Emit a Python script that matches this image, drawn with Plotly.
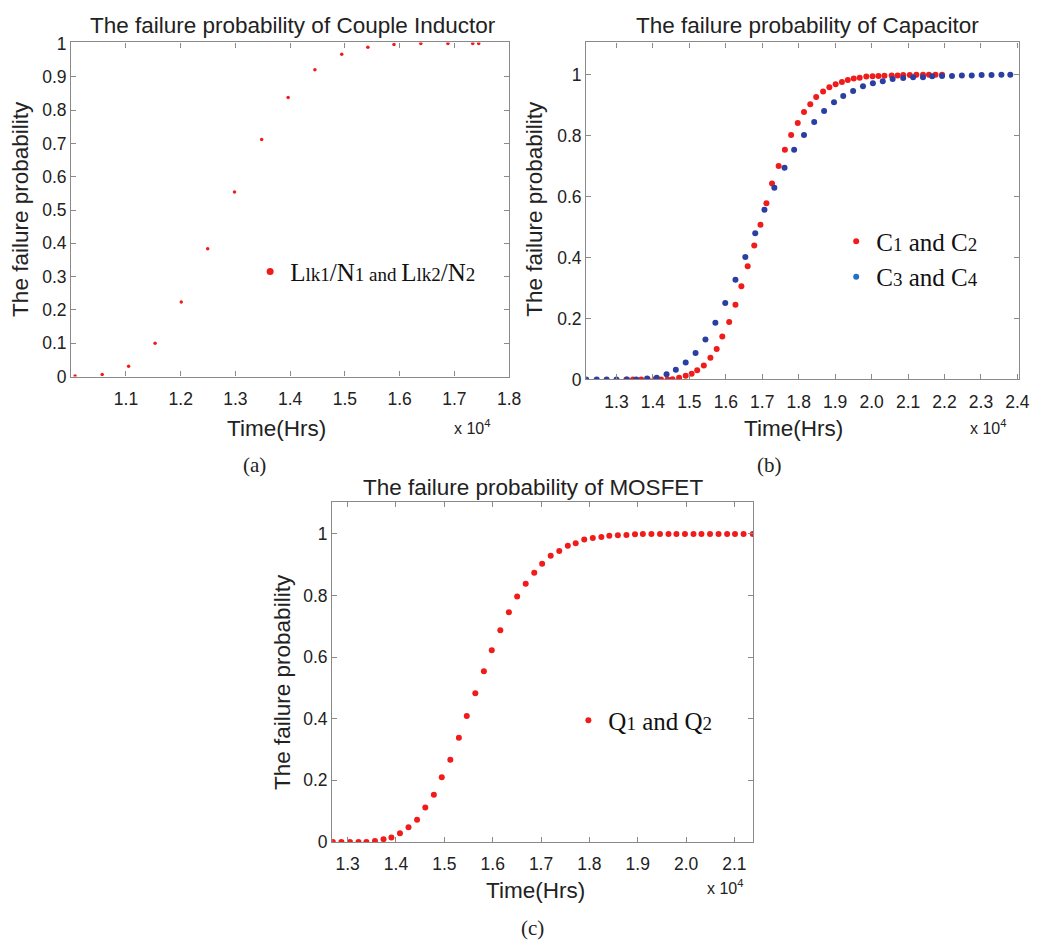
import plotly.graph_objects as go

# (a) couple inductor
ind_t = [10070, 10565, 11048, 11532, 12010, 12493, 12983, 13479, 13963, 14452,
         14942, 15420, 15897, 16387, 16883, 17336, 17445]
ind_p = [0.002, 0.006, 0.031, 0.100, 0.224, 0.384, 0.554, 0.712, 0.838, 0.921,
         0.968, 0.989, 0.997, 1.0, 1.0, 1.0, 1.0]

# (b) capacitors
c12_t = [13271, 13452, 13678, 13859, 14040, 14221, 14402, 14537, 14718, 14899,
         15062, 15215, 15396, 15577, 15749, 15903, 16092, 16264, 16427, 16599,
         16780, 16951, 17114, 17268, 17449, 17620, 17792, 17973, 18145, 18317,
         18479, 18669, 18841, 19013, 19185, 19347, 19510, 19673, 19854, 20026,
         20188, 20351, 20550, 20713, 20867, 21047, 21228, 21409, 21572, 21753, 21933]
c12_p = [0.0, 0.0, 0.0, 0.0, 0.0, 0.0, 0.0, 0.001, 0.006, 0.012,
         0.019, 0.030, 0.046, 0.071, 0.100, 0.141, 0.189, 0.245, 0.306, 0.372,
         0.440, 0.508, 0.578, 0.643, 0.701, 0.754, 0.802, 0.842, 0.878, 0.903,
         0.927, 0.945, 0.959, 0.969, 0.976, 0.983, 0.988, 0.990, 0.994, 0.995,
         0.996, 0.997, 0.998, 0.998, 0.999, 0.999, 1.0, 1.0, 1.0, 1.0, 1.0]
c34_t = [12168, 12457, 12729, 13000, 13289, 13543, 13841, 14103, 14374, 14628,
         14899, 15170, 15441, 15713, 15984, 16264, 16535, 16807, 17060, 17331,
         17611, 17874, 18145, 18425, 18696, 18968, 19221, 19492, 19763, 20035,
         20306, 20577, 20866, 21138, 21409, 21662, 21933, 22205, 22476, 22747,
         23018, 23290, 23561, 23805]
c34_p = [0.0, 0.0, 0.0, 0.0, 0.0, 0.0, 0.003, 0.006, 0.017, 0.032,
         0.056, 0.087, 0.131, 0.186, 0.251, 0.327, 0.402, 0.480, 0.557, 0.629,
         0.695, 0.754, 0.802, 0.845, 0.881, 0.910, 0.930, 0.947, 0.962, 0.972,
         0.979, 0.986, 0.989, 0.992, 0.992, 0.995, 0.996, 0.996, 0.998, 0.998,
         0.999, 0.999, 1.0, 1.0]

# (c) mosfet
q_t = [12694, 12871, 13048, 13225, 13388, 13565, 13742, 13905, 14082, 14259,
       14436, 14606, 14783, 14947, 15124, 15301, 15464, 15641, 15818, 15981,
       16158, 16335, 16506, 16683, 16860, 17023, 17200, 17377, 17554, 17717,
       17894, 18071, 18248, 18412, 18589, 18766, 18943, 19106, 19283, 19460,
       19637, 19800, 19977, 20154, 20318, 20495, 20672, 20849, 21012, 21189, 21380]
q_p = [0.0, 0.0, 0.0, 0.0, 0.0, 0.003, 0.009, 0.014, 0.028, 0.048,
       0.072, 0.112, 0.153, 0.210, 0.267, 0.338, 0.409, 0.483, 0.554, 0.622,
       0.687, 0.746, 0.797, 0.838, 0.874, 0.903, 0.929, 0.945, 0.962, 0.970,
       0.982, 0.987, 0.990, 0.994, 0.996, 0.997, 0.999, 1.0, 1.0, 1.0,
       1.0, 1.0, 1.0, 1.0, 1.0, 1.0, 1.0, 1.0, 1.0, 1.0, 1.0]

xt_a = [11000, 12000, 13000, 14000, 15000, 16000, 17000, 18000]
xl_a = ["1.1", "1.2", "1.3", "1.4", "1.5", "1.6", "1.7", "1.8"]
yt_a = [0, 0.1, 0.2, 0.3, 0.4, 0.5, 0.6, 0.7, 0.8, 0.9, 1]
yl_a = ["0", "0.1", "0.2", "0.3", "0.4", "0.5", "0.6", "0.7", "0.8", "0.9", "1"]
xt_b = [13000, 14000, 15000, 16000, 17000, 18000, 19000, 20000, 21000, 22000, 23000, 24000]
xl_b = ["1.3", "1.4", "1.5", "1.6", "1.7", "1.8", "1.9", "2.0", "2.1", "2.2", "2.3", "2.4"]
xt_c = [13000, 14000, 15000, 16000, 17000, 18000, 19000, 20000, 21000]
xl_c = ["1.3", "1.4", "1.5", "1.6", "1.7", "1.8", "1.9", "2.0", "2.1"]
yt_bc = [0, 0.2, 0.4, 0.6, 0.8, 1]
yl_bc = ["0", "0.2", "0.4", "0.6", "0.8", "1"]

RED = "#f01c1c"
BLUE = "#2b3fa3"
SANS = "Liberation Sans, Arial, sans-serif"
SERIF = "Liberation Serif, Times New Roman, serif"

# page has an 8px body margin, so the figure is 16px smaller than the window
W, H, OFF = 1027, 936, 8


# helpers: window pixel -> paper fraction
def px(x):
    return (x - OFF) / W


def py(y):
    return 1 - (y - OFF) / H


def sm(s, size=19):
    return "<span style='font-size:%dpx'>%s</span>" % (size, s)


fig = go.Figure()
fig.add_trace(go.Scatter(x=ind_t, y=ind_p, mode="markers", xaxis="x", yaxis="y",
                         marker=dict(color=RED, size=3.5), showlegend=False))
fig.add_trace(go.Scatter(x=[None], y=[None], mode="markers", legend="legend",
                         marker=dict(color=RED, size=7),
                         name="L" + sm("lk1") + "/N" + sm("1") + sm(" and ") + "L" + sm("lk2") + "/N" + sm("2")))
fig.add_trace(go.Scatter(x=c12_t, y=c12_p, mode="markers", xaxis="x2", yaxis="y2",
                         marker=dict(color=RED, size=6), showlegend=False))
fig.add_trace(go.Scatter(x=c34_t, y=c34_p, mode="markers", xaxis="x2", yaxis="y2",
                         marker=dict(color=BLUE, size=6), showlegend=False))
fig.add_trace(go.Scatter(x=[None], y=[None], mode="markers", legend="legend2",
                         marker=dict(color=RED, size=6),
                         name="C" + sm("1") + " and C" + sm("2")))
fig.add_trace(go.Scatter(x=[None], y=[None], mode="markers", legend="legend2",
                         marker=dict(color="#2271c8", size=6),
                         name="C" + sm("3") + " and C" + sm("4")))
fig.add_trace(go.Scatter(x=q_t, y=q_p, mode="markers", xaxis="x3", yaxis="y3",
                         marker=dict(color=RED, size=6), legend="legend3",
                         name="Q" + sm("1") + " and Q" + sm("2")))

ax = dict(showgrid=False, zeroline=False, showline=True, linecolor="#8a8a8a", linewidth=1.3,
          mirror="ticks", ticks="inside", ticklen=5, tickcolor="#8a8a8a",
          tickfont=dict(family=SANS, size=17.5, color="#222"))
xax = dict(ax, ticklabelstandoff=6)

leg = dict(xanchor="left", yanchor="middle", bgcolor="rgba(0,0,0,0)",
           font=dict(family=SERIF, size=25, color="#111"), tracegroupgap=0)

fig.update_layout(
    width=W, height=H,
    margin=dict(l=0, r=0, t=0, b=0),
    paper_bgcolor="white", plot_bgcolor="white",
    hovermode=False,
    xaxis=dict(xax, domain=[px(72), px(515)], range=[10000, 18000], tickvals=xt_a, ticktext=xl_a, anchor="y"),
    yaxis=dict(ax, domain=[py(375), py(34)], range=[0, 1.003], tickvals=yt_a, ticktext=yl_a, anchor="x"),
    xaxis2=dict(xax, domain=[px(593), px(1031)], range=[12168, 24045], tickvals=xt_b, ticktext=xl_b, anchor="y2"),
    yaxis2=dict(ax, domain=[py(378), py(34)], range=[0, 1.106], tickvals=yt_bc, ticktext=yl_bc, anchor="x2"),
    xaxis3=dict(xax, domain=[px(336), px(762)], range=[12680, 21388], tickvals=xt_c, ticktext=xl_c, anchor="y3"),
    yaxis3=dict(ax, domain=[py(850), py(503)], range=[0, 1.104], tickvals=yt_bc, ticktext=yl_bc, anchor="x3"),
    legend=dict(leg, x=px(253), y=py(268)),
    legend2=dict(leg, x=px(846), y=py(255)),
    legend3=dict(leg, x=px(575), y=py(726)),
)


def note(text, x, y, size, family=SANS, angle=0):
    fig.add_annotation(text=text, x=px(x), y=py(y), xref="paper", yref="paper", showarrow=False,
                       xanchor="center", yanchor="middle", textangle=angle,
                       font=dict(family=family, size=size, color="#222"))


note("The failure probability of Couple Inductor", 296, 17, 22.5)
note("The failure probability of Capacitor", 817, 17, 22.5)
note("The failure probability of MOSFET", 539, 488, 22.5)
for xx, yy in [(20, 204), (540, 204), (285, 687)]:
    note("The failure probability", xx, yy, 22.5, angle=-90)
for xx, yy in [(280, 428), (803, 428), (542, 900)]:
    note("Time(Hrs)", xx, yy, 22.5)
for xx, yy in [(477, 426), (1000, 426), (733, 896)]:
    note("x 10<sup>4</sup>", xx, yy, 16)
note("(a)", 257, 465, 21, SERIF)
note("(b)", 778, 465, 21, SERIF)
note("(c)", 539, 938, 21, SERIF)

fig.write_html("out.html")
